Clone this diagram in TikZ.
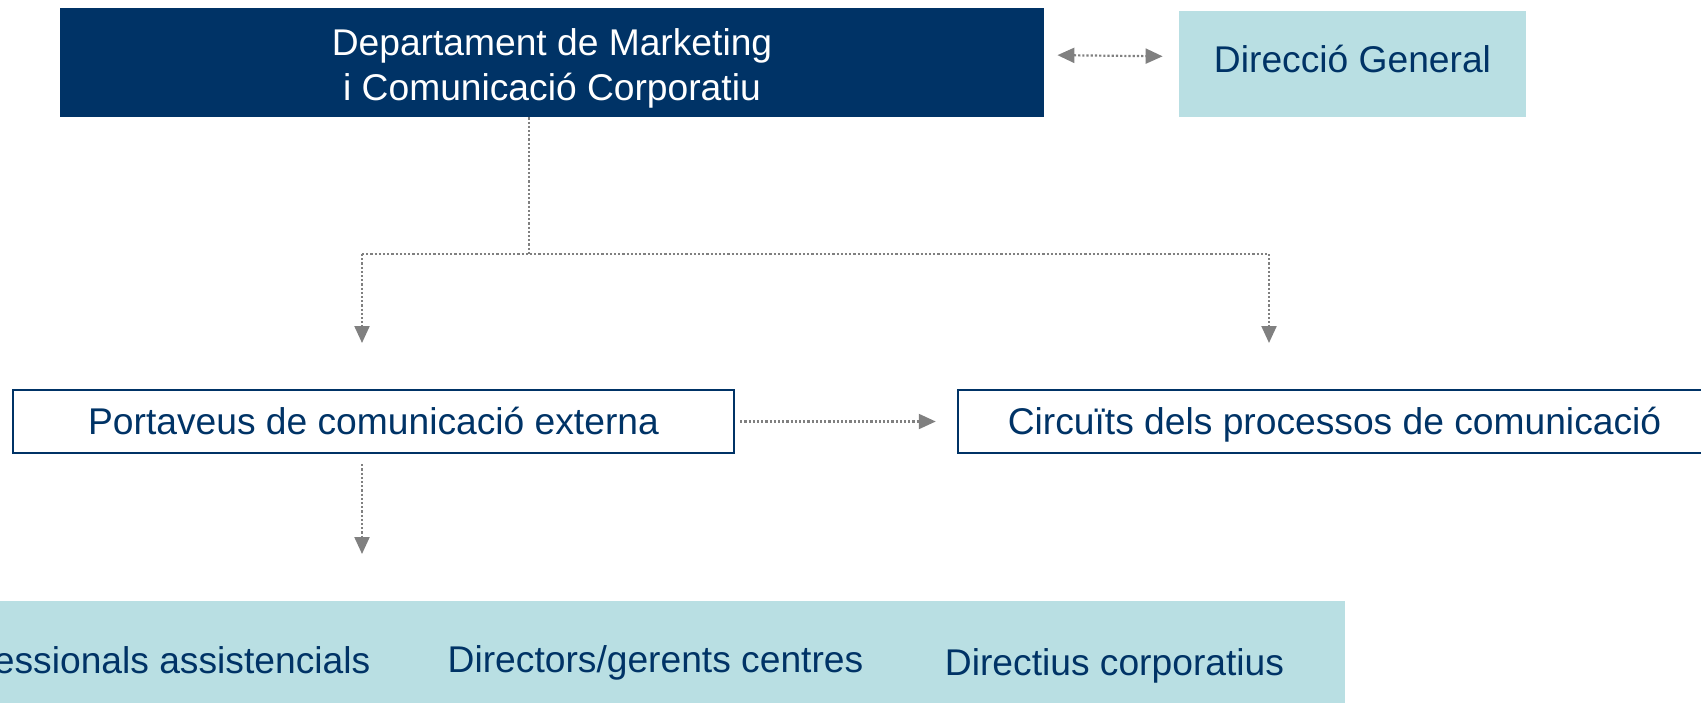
\documentclass[tikz,border=0pt]{standalone}
\usepackage{fontspec}
\setmainfont{Liberation Sans}
\usetikzlibrary{arrows.meta}
\definecolor{navy}{HTML}{003366}
\definecolor{paleteal}{HTML}{B9DFE3}
\definecolor{dotgray}{HTML}{808080}

\begin{document}
\begin{tikzpicture}[x=0.5pt,y=-0.5pt,
every node/.style={font=\fontsize{18.6pt}{22.5pt}\selectfont,inner sep=0pt},
dots/.style={dotgray,line width=1.1pt,dash pattern=on 1.1pt off 1pt},
-->/.style={dots,-{Triangle[length=8.5pt,width=7.5pt]}},
<-->/.style={dots,{Triangle[length=8.5pt,width=7.5pt]}-{Triangle[length=8.5pt,width=7.5pt]}},
oneline/.style={text height=1.48em,text depth=0.212em},
box/.style={oneline,draw=navy,line width=1.25pt,text=navy},
]
\useasboundingbox (0,0) rectangle (1701,702);
\clip (0,0) rectangle (1701,702);

% top row
\node[fill=navy,minimum width=492pt,minimum height=54.5pt] (mkt) at (552,62.5) {};
\node[text=white,align=center] (mkttxt) at ([yshift=-3pt]mkt.center) {Departament de Marketing\\i Comunicació Corporatiu};
\node[fill=paleteal,text=navy,text height=1.08em,text depth=0.212em,minimum width=173.5pt,minimum height=53pt] (dg) at (1352.5,64) {Direcció General};
\draw[<-->,shorten <=6.5pt,shorten >=8pt] ([yshift=3.75pt]mkt.east) -- ([yshift=3.75pt]dg.west);

% branches
\coordinate (split) at (529,254);
\coordinate (lbr) at (362,254);
\coordinate (rbr) at (1269,254);
\coordinate (ltip) at (362,343);
\coordinate (rtip) at (1269,343);
\coordinate (btip) at (362,554);
\draw[dots] (mkt.south -| split) -- (split);
\draw[dots] (lbr) -- (rbr);
\draw[-->] (lbr) -- (ltip);
\draw[-->] (rbr) -- (rtip);

% middle row
\node[box,minimum width=360.5pt,minimum height=31.5pt] (port) at (373.5,421.5) {Portaveus de comunicació externa};
\node[box,minimum width=376.5pt,minimum height=31.5pt] (circ) at (1334.5,421.5) {Circuïts dels processos de comunicació};
\draw[-->,shorten <=2.5pt,shorten >=10.5pt] (port.east) -- (circ.west);
\draw[-->,shorten <=5pt] (port.south -| btip) -- (btip);

% bottom band
\node[fill=paleteal,minimum width=672.5pt,minimum height=57pt] (aud) at (672.5,658) {};
\node[text=navy,anchor=base] (prof) at (148,673) {Professionals assistencials};
\node[text=navy,anchor=base] (dirs) at (655.5,672) {Directors/gerents centres};
\node[text=navy,anchor=base] (corp) at (1114.5,675) {Directius corporatius};

\end{tikzpicture}
\end{document}
